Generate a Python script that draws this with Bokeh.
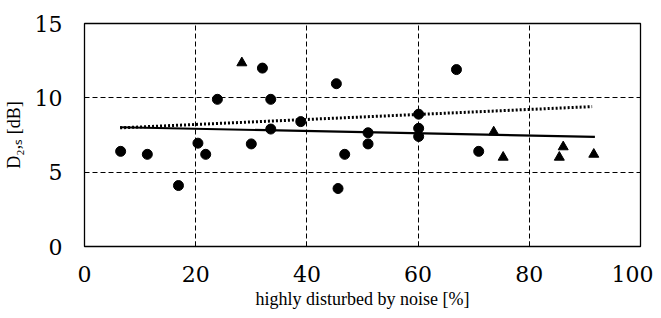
from bokeh.plotting import figure
from bokeh.models import FixedTicker, Range1d
from bokeh.embed import file_html
from bokeh.resources import INLINE

# ---- data ----
circle_x = [6.5, 11.3, 16.9, 20.4, 21.8, 23.9, 32.0, 33.5, 33.5, 30.0, 38.9,
            45.3, 46.8, 45.6, 51.0, 51.0, 60.1, 60.1, 60.1, 66.9, 70.9]
circle_y = [6.4, 6.2, 4.1, 6.95, 6.2, 9.9, 12.0, 9.9, 7.9, 6.9, 8.4,
            10.95, 6.2, 3.9, 7.65, 6.9, 8.9, 7.95, 7.4, 11.9, 6.4]
tri_x = [28.3, 73.6, 75.3, 86.1, 85.4, 91.6]
tri_y = [12.35, 7.7, 6.0, 6.7, 6.0, 6.2]
trend_solid_x = [6.4, 91.8]
trend_solid_y = [8.02, 7.38]
trend_dot_x = [6.4, 91.3]
trend_dot_y = [7.98, 9.41]
x_ticks = [0, 20, 40, 60, 80, 100]
y_ticks = [0, 5, 10, 15]
x_title = "highly disturbed by noise [%]"
y_title = "D\u2082,\u209b [dB]"

TITLE_FONT = "Liberation Serif"
TICK_FONT = "DejaVu Serif"

p = figure(width=653, height=318, output_backend="svg", toolbar_location=None,
           x_range=Range1d(0, 100), y_range=Range1d(0, 15),
           min_border_left=84, min_border_right=13, min_border_top=23,
           min_border_bottom=72)
p.background_fill_color = "white"
p.border_fill_color = "white"
p.outline_line_color = "black"
p.outline_line_width = 1.3

# grid
p.xgrid.ticker = FixedTicker(ticks=[20, 40, 60, 80])
p.ygrid.ticker = FixedTicker(ticks=[5, 10])
for g in (p.xgrid, p.ygrid):
    g.grid_line_color = "black"
    g.grid_line_dash = "5 3"
    g.grid_line_width = 1

# axes
p.xaxis.ticker = FixedTicker(ticks=x_ticks)
p.yaxis.ticker = FixedTicker(ticks=y_ticks)
for ax in (p.xaxis[0], p.yaxis[0]):
    ax.axis_line_color = None
    ax.minor_tick_line_color = None
    ax.major_label_text_font = TICK_FONT
    ax.major_label_text_font_size = "22px"
    ax.major_label_text_font_style = "normal"
    ax.major_label_text_color = "black"
    ax.major_tick_out = 0
    ax.axis_label_text_font = TITLE_FONT
    ax.axis_label_text_font_size = "18px"
    ax.axis_label_text_font_style = "normal"
    ax.axis_label_text_color = "black"
p.xaxis.major_tick_in = 5
p.xaxis.major_tick_line_color = "black"
p.yaxis.major_tick_line_color = None
p.xaxis.major_label_standoff = 19
p.yaxis.major_label_standoff = 22

p.xaxis.axis_label = x_title
p.xaxis.axis_label_standoff = 4
p.yaxis.axis_label = y_title
p.yaxis.axis_label_standoff = 8

# trend lines
p.line(trend_solid_x, trend_solid_y, line_color="black", line_width=2.2)
p.line(trend_dot_x, trend_dot_y, line_color="black", line_width=3, line_dash="2 2")

# markers
p.scatter(circle_x, circle_y, marker="circle", size=10, fill_color="black", line_color="black")
p.scatter(tri_x, tri_y, marker="triangle", size=10, fill_color="black", line_color="black")

open("out.html", "w").write(file_html(p, INLINE))
